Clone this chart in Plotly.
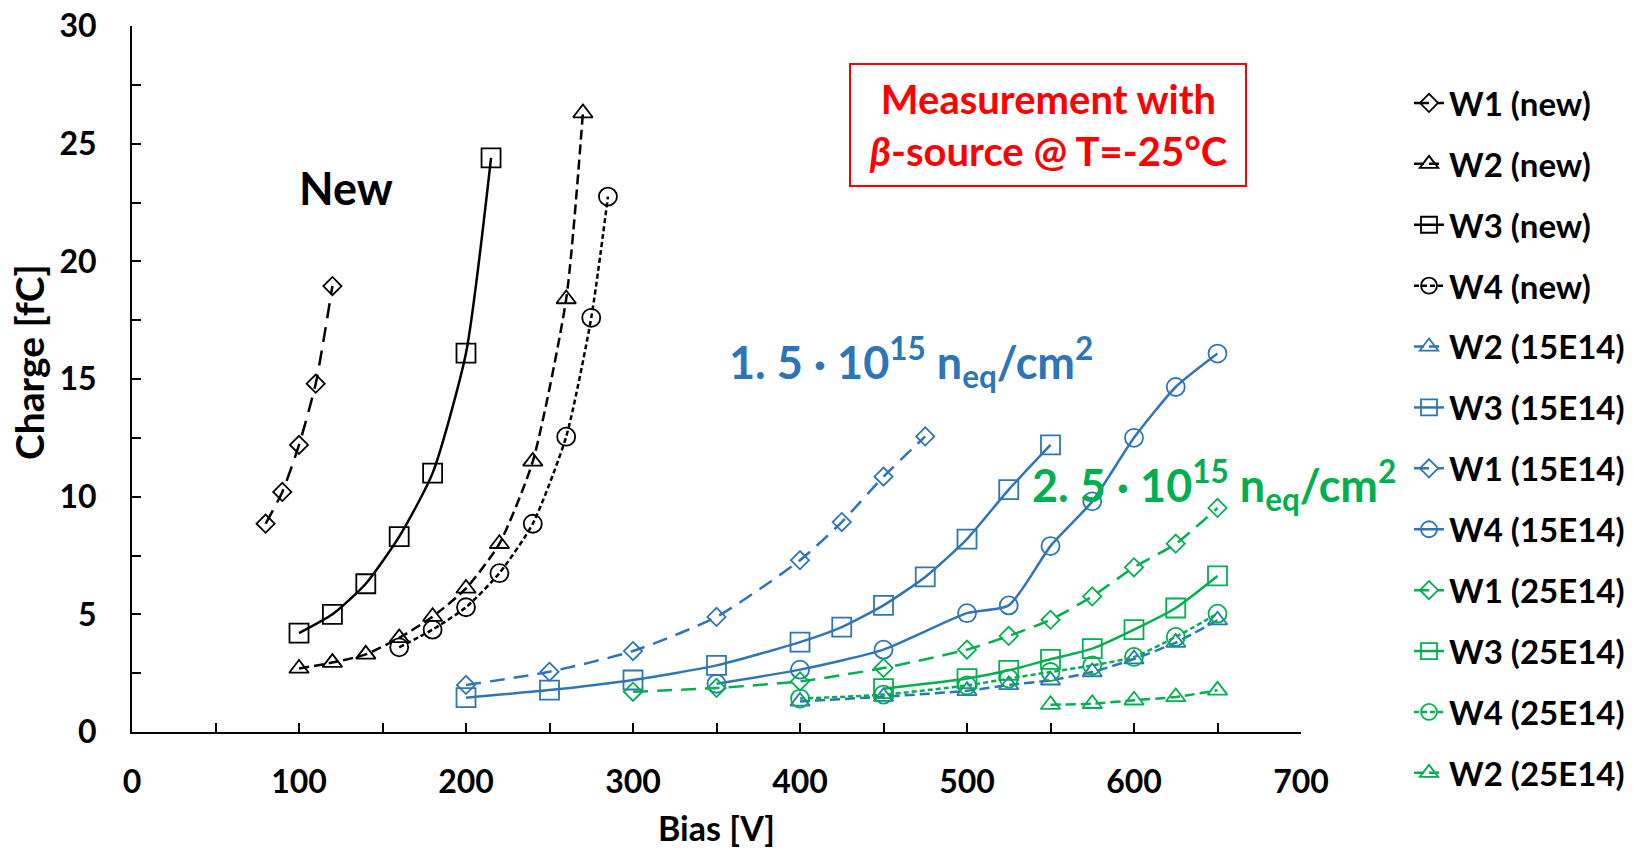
import plotly.graph_objects as go

# ---------------- data ----------------
w1_new_x = [80, 90, 100, 110, 120]
w1_new_y = [8.85, 10.2, 12.2, 14.8, 18.95]
w2_new_x = [100, 120, 140, 160, 180, 200, 220, 240, 260, 270]
w2_new_y = [2.7, 2.95, 3.3, 4.0, 4.9, 6.1, 8.0, 11.5, 18.4, 26.3]
w3_new_x = [100, 120, 140, 160, 180, 200, 215]
w3_new_y = [4.2, 5.0, 6.3, 8.3, 11.0, 16.1, 24.4]
w4_new_x = [160, 180, 200, 220, 240, 260, 275, 285]
w4_new_y = [3.6, 4.35, 5.3, 6.75, 8.85, 12.55, 17.6, 22.75]

w2_15_x = [400, 450, 500, 525, 550, 575, 600, 625, 650]
w2_15_y = [1.3, 1.5, 1.75, 2.0, 2.2, 2.55, 3.1, 3.8, 4.75]
w3_15_x = [200, 250, 300, 350, 400, 425, 450, 475, 500, 525, 550]
w3_15_y = [1.46, 1.78, 2.21, 2.83, 3.82, 4.46, 5.38, 6.59, 8.2, 10.3, 12.2]
w1_15_x = [200, 250, 300, 350, 400, 425, 450, 475]
w1_15_y = [2.0, 2.56, 3.44, 4.89, 7.3, 8.92, 10.85, 12.56]
w4_15_x = [350, 400, 450, 500, 525, 550, 575, 600, 625, 650]
w4_15_y = [2.05, 2.65, 3.5, 5.05, 5.38, 7.9, 9.8, 12.5, 14.66, 16.08]

w1_25_x = [300, 350, 400, 450, 500, 525, 550, 575, 600, 625, 650]
w1_25_y = [1.71, 1.87, 2.15, 2.72, 3.5, 4.08, 4.77, 5.76, 7.0, 8.0, 9.52]
w3_25_x = [450, 500, 525, 550, 575, 600, 625, 650]
w3_25_y = [1.84, 2.27, 2.62, 3.09, 3.54, 4.35, 5.27, 6.63]
w4_25_x = [400, 450, 500, 525, 550, 575, 600, 625, 650]
w4_25_y = [1.42, 1.59, 1.98, 2.27, 2.55, 2.83, 3.19, 4.04, 5.03]
w2_25_x = [550, 575, 600, 625, 650]
w2_25_y = [1.16, 1.2, 1.35, 1.49, 1.77]

y_ticks = [0, 5, 10, 15, 20, 25, 30]
x_ticks = [0, 100, 200, 300, 400, 500, 600, 700]

BLACK = "#000000"
BLUE = "#2E75B6"
GREEN = "#00B050"
FONT = "Lato"

LONG = "15px,9px"
MED = "10px,5px"
SHORT = "5px,3px"

series = [
    ("W1 (new)", w1_new_x, w1_new_y, BLACK, LONG, "diamond-open", 14),
    ("W2 (new)", w2_new_x, w2_new_y, BLACK, MED, "triangle-up-open", 17),
    ("W3 (new)", w3_new_x, w3_new_y, BLACK, "solid", "square-open", 19),
    ("W4 (new)", w4_new_x, w4_new_y, BLACK, SHORT, "circle-open", 18),
    ("W2 (15E14)", w2_15_x, w2_15_y, BLUE, MED, "triangle-up-open", 17),
    ("W3 (15E14)", w3_15_x, w3_15_y, BLUE, "solid", "square-open", 19),
    ("W1 (15E14)", w1_15_x, w1_15_y, BLUE, LONG, "diamond-open", 14),
    ("W4 (15E14)", w4_15_x, w4_15_y, BLUE, "solid", "circle-open", 18),
    ("W1 (25E14)", w1_25_x, w1_25_y, GREEN, LONG, "diamond-open", 14),
    ("W3 (25E14)", w3_25_x, w3_25_y, GREEN, "solid", "square-open", 19),
    ("W4 (25E14)", w4_25_x, w4_25_y, GREEN, SHORT, "circle-open", 18),
    ("W2 (25E14)", w2_25_x, w2_25_y, GREEN, MED, "triangle-up-open", 17),
]

fig = go.Figure()
for i, (name, xs, ys, col, dash, sym, msz) in enumerate(series):
    fig.add_trace(go.Scatter(
        x=xs, y=ys, name=name, mode="lines+markers",
        legendgroup=f"g{i}",
        line=dict(color=col, width=2.5, dash=dash, shape="spline", smoothing=0.6),
        marker=dict(symbol=sym, size=msz, color=col, line=dict(width=1.8, color=col)),
    ))

fig.update_layout(
    width=1633, height=851,
    margin=dict(l=132, r=332, t=26, b=119),
    paper_bgcolor="white", plot_bgcolor="white",
    font=dict(family=FONT, color="black"),
    showlegend=True,
    legend=dict(
        xref="container", yref="container",
        x=1409 / 1633, y=1 - 75 / 851, xanchor="left", yanchor="top",
        font=dict(family=FONT, size=33, color="black", weight="bold"),
        tracegroupgap=15, bgcolor="rgba(0,0,0,0)", borderwidth=0,
        maxheight=845,
    ),
    xaxis=dict(
        range=[0, 700], tickvals=x_ticks, ticktext=[str(v) for v in x_ticks],
        showgrid=False, zeroline=False, showline=True, linecolor="black", linewidth=2,
        ticks="inside", ticklen=9, tickwidth=2, tickcolor="black",
        minor=dict(dtick=50, ticks="inside", ticklen=9, tickwidth=2, tickcolor="black"),
        tickfont=dict(family=FONT, size=32, color="black", weight="bold"),
        ticklabelstandoff=21, automargin=False,
        title=dict(text="Bias [V]", font=dict(family=FONT, size=34, color="black", weight="bold"), standoff=18),
    ),
    yaxis=dict(
        range=[0, 30], tickvals=y_ticks, ticktext=[str(v) for v in y_ticks],
        showgrid=False, zeroline=False, showline=True, linecolor="black", linewidth=2,
        ticks="inside", ticklen=9, tickwidth=2, tickcolor="black",
        minor=dict(dtick=2.5, ticks="inside", ticklen=9, tickwidth=2, tickcolor="black"),
        tickfont=dict(family=FONT, size=32, color="black", weight="bold"),
        ticklabelstandoff=27, automargin=False,
    ),
)

# y-axis title placed as rotated text (slightly above the plot's middle, as in the original)
fig.add_annotation(x=(29 - 132) / 1169, y=(732 - 362) / 706, xref="paper", yref="paper",
                   text="Charge [fC]", textangle=-90, showarrow=False,
                   xanchor="center", yanchor="middle",
                   font=dict(family=FONT, size=39, color="black", weight="bold"))
fig.add_annotation(x=128, y=23.1, xref="x", yref="y", text="New", showarrow=False,
                   font=dict(family=FONT, size=45, color="black", weight="bold"))
fig.add_annotation(x=356.5, y=15.72, xref="x", yref="y", xanchor="left",
                   text="1. 5 · 10<sup>15</sup> n<sub>eq</sub>/cm<sup>2</sup>", showarrow=False,
                   font=dict(family=FONT, size=45, color=BLUE, weight="bold"))
fig.add_annotation(x=537.5, y=10.5, xref="x", yref="y", xanchor="left",
                   text="2. 5 · 10<sup>15</sup> n<sub>eq</sub>/cm<sup>2</sup>", showarrow=False,
                   font=dict(family=FONT, size=45, color=GREEN, weight="bold"))
fig.add_annotation(x=(1048 - 132) / 1169, y=(732 - 125) / 706, xref="paper", yref="paper",
                   xanchor="center", yanchor="middle",
                   text="Measurement with<br><i>β</i>-source @ T=-25°C", showarrow=False,
                   font=dict(family=FONT, size=40, color="red", weight="bold"),
                   width=378, height=104,
                   bordercolor="red", borderwidth=2, borderpad=8, bgcolor="white")

fig.write_html("out.html")
